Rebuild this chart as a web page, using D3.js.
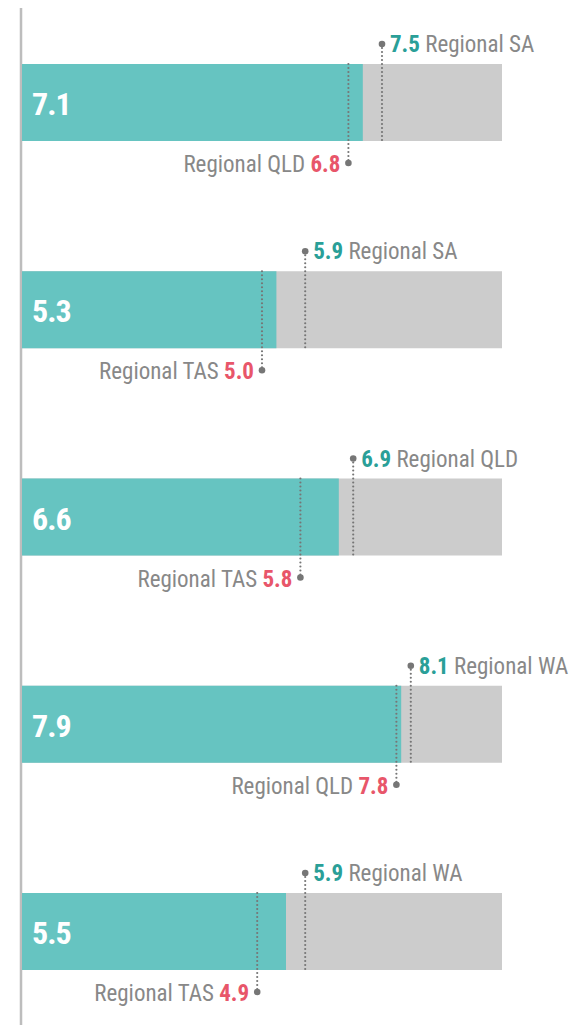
<!DOCTYPE html>
<html><head><meta charset="utf-8">
<script src="https://cdn.jsdelivr.net/npm/d3@7"></script>
<style>
body{margin:0;background:#fff;}
svg{display:block;font-family:"Liberation Sans Narrow","Roboto Condensed","Arial Narrow",Roboto,sans-serif;}
</style></head><body>
<svg id="c" width="570" height="1025"></svg>
<script>
const barValues = [7.1, 5.3, 6.6, 7.9, 5.5];
const highValues = [7.5, 5.9, 6.9, 8.1, 5.9];
const highLabels = ["Regional SA", "Regional SA", "Regional QLD", "Regional WA", "Regional WA"];
const lowValues = [6.8, 5.0, 5.8, 7.8, 4.9];
const lowLabels = ["Regional QLD", "Regional TAS", "Regional TAS", "Regional QLD", "Regional TAS"];
const maxValue = 10;

const svg = d3.select("#c");
const x = d3.scaleLinear().domain([0, maxValue]).range([22, 502]);
const rows = d3.scaleBand().domain(d3.range(barValues.length)).range([27, 27 + 5 * 207.25]).padding(0);
const barTop = i => rows(i) + 37;
const barH = 77;

// axis line
svg.append("line").attr("x1", 21).attr("x2", 21).attr("y1", 8).attr("y2", 1025)
  .attr("stroke", "#bdbdbd").attr("stroke-width", 2.5);

const g = svg.selectAll("g.row").data(barValues).join("g").attr("class", "row");

g.append("rect").attr("x", x(0)).attr("y", (d, i) => barTop(i))
  .attr("width", x(maxValue) - x(0)).attr("height", barH).attr("fill", "#cccccc");
g.append("rect").attr("x", x(0)).attr("y", (d, i) => barTop(i))
  .attr("width", d => x(d) - x(0)).attr("height", barH).attr("fill", "#66c4c1");
g.append("text").attr("x", 32).attr("y", (d, i) => barTop(i) + 51)
  .attr("fill", "#fff").attr("font-size", 32).attr("font-weight", "bold").attr("letter-spacing", -1)
  .text(d => d.toFixed(1));

const dotColor = "#767676";
// high markers
g.append("line").attr("x1", (d, i) => x(highValues[i])).attr("x2", (d, i) => x(highValues[i]))
  .attr("y1", (d, i) => barTop(i) - 20).attr("y2", (d, i) => barTop(i) + barH)
  .attr("stroke", dotColor).attr("stroke-width", 2.2).attr("stroke-linecap", "round")
  .attr("stroke-dasharray", "0,4");
g.append("circle").attr("cx", (d, i) => x(highValues[i])).attr("cy", (d, i) => barTop(i) - 20)
  .attr("r", 3.3).attr("fill", dotColor);
const ht = g.append("text").attr("x", (d, i) => x(highValues[i]) + 8).attr("y", (d, i) => barTop(i) - 12)
  .attr("font-size", 23);
ht.append("tspan").attr("fill", "#2a9f98").attr("font-weight", "bold").text((d, i) => highValues[i].toFixed(1));
ht.append("tspan").attr("fill", "#888").text((d, i) => " " + highLabels[i]);

// low markers
g.append("line").attr("x1", (d, i) => x(lowValues[i])).attr("x2", (d, i) => x(lowValues[i]))
  .attr("y1", (d, i) => barTop(i)).attr("y2", (d, i) => barTop(i) + barH + 22)
  .attr("stroke", dotColor).attr("stroke-width", 2.2).attr("stroke-linecap", "round")
  .attr("stroke-dasharray", "0,4");
g.append("circle").attr("cx", (d, i) => x(lowValues[i])).attr("cy", (d, i) => barTop(i) + barH + 22)
  .attr("r", 3.3).attr("fill", dotColor);
const lt = g.append("text").attr("x", (d, i) => x(lowValues[i]) - 8).attr("y", (d, i) => barTop(i) + barH + 31)
  .attr("font-size", 23).attr("text-anchor", "end");
lt.append("tspan").attr("fill", "#888").text((d, i) => lowLabels[i] + " ");
lt.append("tspan").attr("fill", "#e8566a").attr("font-weight", "bold").text((d, i) => lowValues[i].toFixed(1));
</script>
</body></html>
